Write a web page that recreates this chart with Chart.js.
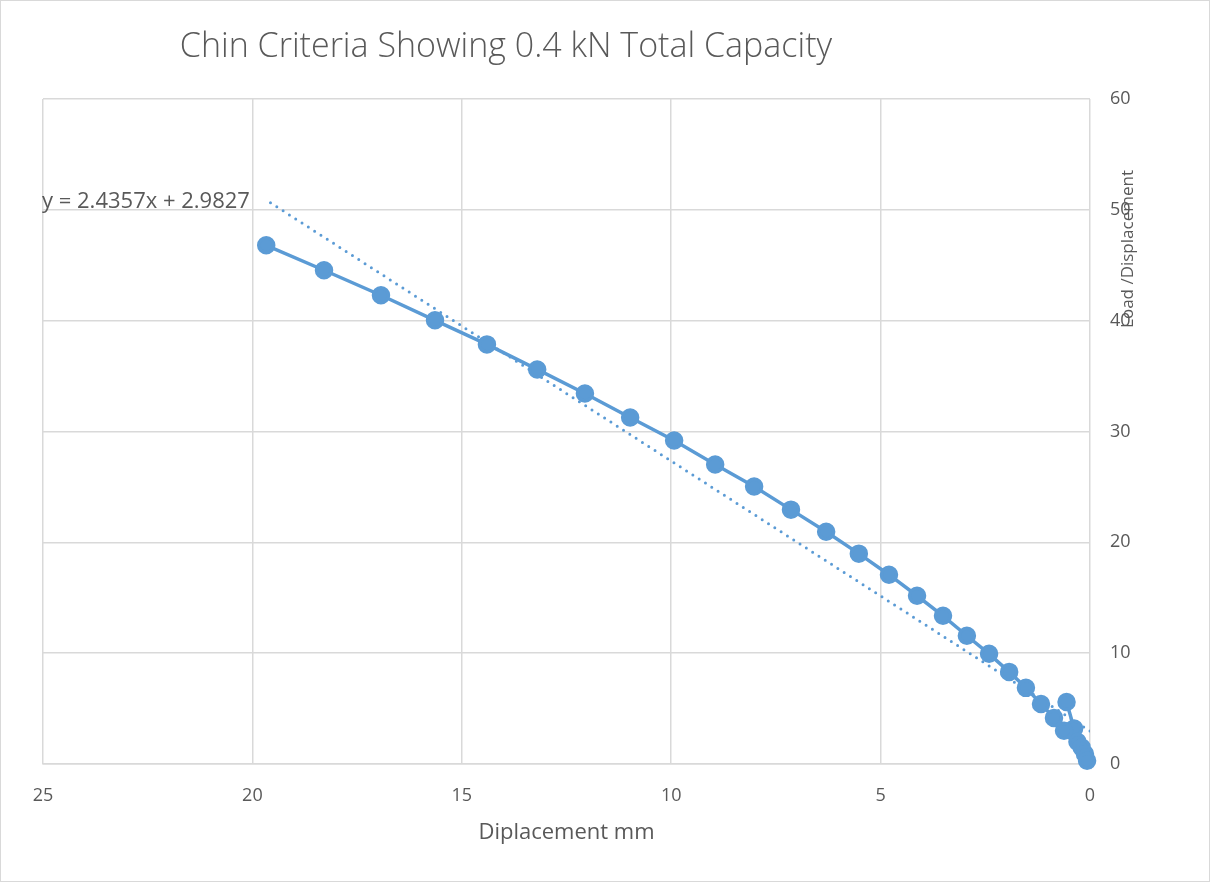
<!DOCTYPE html>
<html>
<head>
<meta charset="utf-8">
<script src="https://cdn.jsdelivr.net/npm/chart.js@4.4.0/dist/chart.umd.min.js"></script>
<style>
  html, body { margin: 0; padding: 0; background: #fff; }
  #wrap { position: relative; width: 1210px; height: 882px; box-sizing: border-box; border: 1px solid #d9d9d9; }
</style>
</head>
<body>
<div id="wrap"><canvas id="chart_chin" width="1208" height="880"></canvas></div>
<script>
const canvasChin = document.getElementById('chart_chin');

/* DATA */
const TITLE = 'Chin Criteria Showing 0.4 kN Total Capacity';
const X_TITLE = 'Diplacement mm';
const Y_TITLE = 'Load /Displacement';
const TREND_LABEL = 'y = 2.4357x + 2.9827';

// displacement (mm)
var disp = [0.56, 0.38, 0.30, 0.20, 0.12, 0.07, 0.62, 0.86, 1.17, 1.53, 1.93, 2.41, 2.94, 3.51, 4.13,
            4.80, 5.52, 6.30, 7.14, 8.02, 8.95, 9.93, 10.98, 12.06, 13.20, 14.40, 15.64, 16.93, 18.29, 19.67];
// displacement / load
var ratio = [5.6, 3.2, 2.0, 1.5, 0.9, 0.3, 3.0, 4.16, 5.42, 6.87, 8.31, 9.94, 11.57, 13.37, 15.18,
             17.08, 18.98, 20.96, 22.95, 25.03, 27.02, 29.19, 31.26, 33.43, 35.6, 37.86, 40.03, 42.29, 44.55, 46.8];

// linear trendline from the label
var trend_slope = 2.4357;
var trend_intercept = 2.9827;
var trend_x = [0, 19.7];

const BLUE = '#5B9BD5';
const GREY = '#595959';
const FONT = '"Open Sans", "Noto Sans", sans-serif';

/* DATA STRUCTURE */
const points = disp.map((d, i) => ({ x: d, y: ratio[i] }));
const trendPoints = trend_x.map(x => ({ x: x, y: trend_slope * x + trend_intercept }));

/* TEXT PLUGIN */
const textPlugin = {
    id: 'texts',
    afterDraw(chart) {
        const ctx = chart.ctx;
        const area = chart.chartArea;
        ctx.save();
        ctx.fillStyle = GREY;
        ctx.textBaseline = 'middle';

        ctx.font = '300 34px ' + FONT;
        ctx.textAlign = 'center';
        ctx.fillText(TITLE, 505, 46);

        ctx.font = '22px ' + FONT;
        ctx.fillText(X_TITLE, (area.left + area.right) / 2, 832);

        ctx.textAlign = 'left';
        ctx.font = '22px ' + FONT;
        ctx.fillText(TREND_LABEL, 41, 201);

        ctx.translate(1127, 248);
        ctx.rotate(-Math.PI / 2);
        ctx.textAlign = 'center';
        ctx.font = '17px ' + FONT;
        ctx.fillText(Y_TITLE, 0, 0);
        ctx.restore();
    }
};

/* Scatter Chart */
var chartChin = new Chart(canvasChin, {
    type: 'scatter',
    data: {
        datasets: [
            {
                label: 'Chin',
                data: points,
                showLine: true,
                clip: false,
                borderColor: BLUE,
                backgroundColor: BLUE,
                borderWidth: 3.5,
                pointRadius: 7.5,
                pointHoverRadius: 7.5,
                order: 1
            },
            {
                label: 'Linear',
                data: trendPoints,
                showLine: true,
                borderColor: BLUE,
                borderWidth: 3,
                borderDash: [0, 7.5],
                borderCapStyle: 'round',
                pointRadius: 0,
                order: 2
            }
        ]
    },
    options: {
        responsive: false,
        animation: false,
        layout: { padding: { top: 98, left: 42, right: 0, bottom: 0 } },
        plugins: {
            legend: { display: false },
            tooltip: { enabled: false }
        },
        scales: {
            x: {
                type: 'linear',
                reverse: true,
                min: 0,
                max: 25,
                ticks: {
                    stepSize: 5,
                    color: GREY,
                    padding: 21,
                    font: { size: 18, family: FONT }
                },
                grid: { color: '#d9d9d9', lineWidth: 1.5, drawTicks: false },
                border: { color: '#d9d9d9', width: 1.5 },
                afterFit(scale) { scale.height = 117; }
            },
            y: {
                type: 'linear',
                position: 'right',
                min: 0,
                max: 60,
                ticks: {
                    stepSize: 10,
                    color: GREY,
                    padding: 20,
                    font: { size: 18, family: FONT }
                },
                grid: { color: '#d9d9d9', lineWidth: 1.5, drawTicks: false },
                border: { display: false },
                afterFit(scale) { scale.width = 119; }
            }
        }
    },
    plugins: [textPlugin]
});
</script>
</body>
</html>
